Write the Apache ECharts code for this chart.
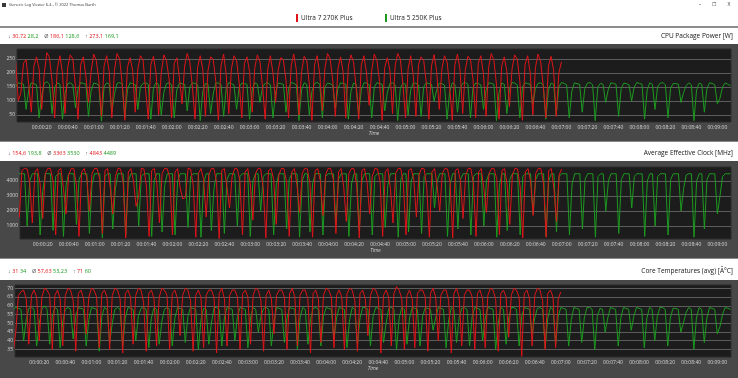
<!DOCTYPE html>
<html>
<head>
<meta charset="utf-8">
<title>Generic Log Viewer</title>
<script src="https://cdn.jsdelivr.net/npm/echarts@6/dist/echarts.min.js"></script>
<style>
    html, body { margin: 0; padding: 0; background: #fff; }
    #main { width: 738px; height: 378px; }
</style>
</head>
<body>
<div id="main"></div>
<script>
// log sample step in seconds
var SAMPLE_STEP = 2;

var seriesNames = ['Ultra 7 270K Plus', 'Ultra 5 250K Plus'];
var seriesColors = ['#de1419', '#1d9a20'];

var timeTicks = [20, 40, 60, 80, 100, 120, 140, 160, 180, 200, 220, 240, 260, 280,
    300, 320, 340, 360, 380, 400, 420, 440, 460, 480, 500, 520, 540];
var powerTicks = [50, 100, 150, 200, 250];
var clockTicks = [1000, 2000, 3000, 4000];
var tempTicks = [35, 40, 45, 50, 55, 60, 65, 70];

// min / avg / max shown above each panel: [red, green]
var powerStats = [['30,72', '28,2'], ['186,1', '128,6'], ['273,1', '169,1']];
var clockStats = [['154,6', '193,8'], ['3363', '3530'], ['4843', '4489']];
var tempStats = [['31', '34'], ['57,63', '53,23'], ['71', '60']];

// CPU Package Power [W]
var redPower = [
    240, 100, 130, 235, 248, 160, 60, 225, 258, 215,
    70, 200, 273, 255, 170, 40, 215, 262, 200, 55,
    220, 265, 250, 150, 35, 230, 258, 190, 95, 205,
    268, 245, 175, 45, 225, 262, 205, 40, 210, 270,
    250, 160, 31, 220, 255, 210, 60, 215, 262, 248,
    140, 35, 230, 260, 200, 50, 200, 265, 245, 180,
    40, 235, 255, 185, 90, 225, 270, 240, 150, 35,
    220, 262, 215, 45, 210, 258, 250, 170, 31, 225,
    268, 195, 55, 215, 262, 245, 165, 40, 235, 258,
    205, 60, 220, 265, 240, 150, 35, 215, 262, 200,
    95, 210, 255, 248, 175, 40, 225, 268, 210, 50,
    205, 260, 245, 160, 31, 230, 262, 195, 65, 220,
    270, 250, 175, 45, 215, 258, 205, 40, 225, 265,
    240, 150, 35, 230, 262, 200, 85, 210, 268, 245,
    170, 31, 220, 255, 210, 55, 225, 270, 250, 160,
    40, 215, 262, 190, 45, 230, 258, 245, 165, 35,
    225, 266, 205, 70, 215, 262, 240, 150, 31, 230,
    268, 210, 55, 210, 260, 248, 175, 40, 235, 262,
    195, 45, 220, 270, 245, 160, 35, 225, 258, 205,
    80, 215, 265, 250, 170, 31, 230, 262, 200, 50,
    220, 268, 240, 155, 40, 225, 260, 210, 45, 200,
    240
];
var greenPower = [
    150, 165, 163, 160, 70, 140, 165, 162, 158, 40,
    120, 163, 169, 160, 55, 150, 165, 160, 35, 130,
    162, 165, 158, 75, 145, 166, 163, 160, 45, 135,
    164, 162, 157, 28, 150, 165, 160, 60, 125, 163,
    166, 160, 40, 140, 165, 162, 158, 70, 150, 163,
    165, 160, 35, 145, 166, 160, 50, 130, 162, 165,
    158, 40, 140, 164, 162, 160, 65, 150, 165, 163,
    158, 30, 135, 163, 160, 55, 125, 165, 164, 160,
    45, 145, 166, 162, 157, 70, 150, 164, 162, 160,
    35, 140, 165, 160, 95, 150, 163, 165, 158, 40,
    130, 164, 162, 160, 60, 145, 166, 163, 158, 30,
    140, 165, 160, 50, 135, 163, 166, 160, 40, 150,
    164, 162, 157, 75, 145, 165, 163, 160, 35, 135,
    164, 160, 55, 140, 165, 164, 158, 40, 150, 166,
    162, 160, 65, 130, 163, 165, 158, 30, 145, 164,
    160, 50, 140, 165, 163, 158, 45, 150, 166, 162,
    160, 100, 140, 164, 162, 157, 35, 135, 165, 160,
    60, 145, 163, 166, 160, 40, 150, 164, 162, 158,
    70, 140, 165, 163, 160, 30, 130, 164, 160, 55,
    145, 166, 164, 158, 40, 150, 165, 162, 160, 90,
    145, 163, 165, 158, 35, 140, 164, 160, 50, 150,
    166, 163, 158, 40, 135, 165, 162, 160, 60, 145,
    164, 166, 158, 30, 150, 163, 160, 95, 140, 165,
    163, 160, 45, 145, 164, 162, 158, 100, 150, 166,
    163, 160, 35, 140, 165, 160, 70, 150, 164, 166,
    158, 40, 145, 163, 162, 160, 95, 130, 155, 165,
    158, 30, 140, 164, 160, 60, 145, 165, 163, 158,
    90, 110, 150, 165, 160, 155
];

// Average Effective Clock [MHz]
var redClock = [
    1300, 1600, 4700, 4840, 4800, 3900, 1200, 4600, 4830, 3800,
    1500, 4500, 4843, 4820, 4000, 400, 4700, 4830, 3500, 1800,
    4400, 4840, 4810, 3700, 300, 4600, 4830, 4200, 2000, 4500,
    4840, 4820, 4100, 500, 4700, 4830, 3600, 1800, 4300, 4840,
    4800, 3900, 200, 4600, 4830, 4000, 2300, 3000, 4840, 4810,
    3600, 300, 4700, 4830, 3800, 1200, 4500, 4840, 4820, 4200,
    400, 4600, 4830, 3500, 2800, 2900, 4840, 4800, 3700, 250,
    4500, 4830, 4100, 1600, 4400, 4840, 4820, 3900, 155, 4700,
    4830, 3600, 2200, 4300, 4840, 4800, 4000, 400, 4600, 4830,
    3800, 1400, 4500, 4840, 4810, 3500, 200, 4700, 4830, 4100,
    1100, 4400, 4840, 4820, 3900, 300, 4600, 4830, 3700, 1900,
    4500, 4840, 4800, 3800, 250, 4700, 4830, 4000, 1700, 4400,
    4840, 4820, 4100, 500, 4600, 4830, 3600, 1300, 4500, 4840,
    4810, 3700, 200, 4700, 4830, 3900, 1800, 4300, 4840, 4800,
    4000, 300, 4600, 4830, 3500, 1200, 4500, 4840, 4820, 3800,
    400, 4700, 4830, 4100, 1600, 4400, 4840, 4810, 3600, 250,
    4600, 4830, 3700, 2000, 4500, 4840, 4800, 3900, 200, 4700,
    4830, 4000, 1500, 4400, 4840, 4820, 3800, 300, 4600, 4830,
    3500, 1900, 4500, 4840, 4810, 4100, 400, 4700, 4830, 3700,
    1100, 4400, 4840, 4800, 3600, 200, 4600, 4830, 4000, 1700,
    4500, 4840, 4820, 3800, 250, 4700, 4830, 3500, 1300, 4400,
    4800
];
var greenClock = [
    4480, 4485, 4480, 4480, 1000, 4000, 4485, 4480, 4480, 400,
    3300, 4480, 4489, 4480, 700, 4300, 4485, 4480, 300, 3700,
    4480, 4485, 4480, 1100, 4100, 4489, 4480, 4480, 500, 3800,
    4485, 4480, 4480, 194, 4300, 4485, 4480, 800, 3500, 4480,
    4489, 4480, 400, 4000, 4485, 4480, 4480, 1000, 4300, 4480,
    4485, 4480, 300, 4100, 4489, 4480, 600, 3700, 4480, 4485,
    4480, 400, 4000, 4485, 4480, 4480, 900, 4300, 4485, 4480,
    4480, 250, 3800, 4480, 4480, 700, 3500, 4485, 4485, 4480,
    500, 4100, 4489, 4480, 4480, 1000, 4300, 4485, 4480, 4480,
    300, 4000, 4485, 4480, 2000, 4300, 4480, 4485, 4480, 400,
    3700, 4485, 4480, 4480, 800, 4100, 4489, 4480, 4480, 250,
    4000, 4485, 4480, 600, 3800, 4480, 4489, 4480, 400, 4300,
    4485, 4480, 4480, 1100, 4100, 4485, 4480, 4480, 300, 3800,
    4485, 4480, 700, 4000, 4485, 4485, 4480, 400, 4300, 4489,
    4480, 4480, 900, 3700, 4480, 4485, 4480, 250, 4100, 4485,
    4480, 600, 4000, 4485, 4480, 4480, 500, 4300, 4489, 4480,
    4480, 2200, 4000, 4485, 4480, 4480, 300, 3800, 4485, 4480,
    800, 4100, 4480, 4489, 4480, 400, 4300, 4485, 4480, 4480,
    1000, 4000, 4485, 4480, 4480, 250, 3700, 4485, 4480, 700,
    4100, 4489, 4485, 4480, 400, 4300, 4485, 4480, 4480, 1800,
    4100, 4480, 4485, 4480, 300, 4000, 4485, 4480, 600, 4300,
    4489, 4480, 4480, 400, 3800, 4485, 4480, 4480, 800, 4100,
    4485, 4489, 4480, 250, 4300, 4480, 4480, 2000, 4000, 4485,
    4480, 4480, 500, 4100, 4485, 4480, 4480, 2200, 4300, 4489,
    4480, 4480, 300, 4000, 4485, 4480, 1000, 4300, 4485, 4489,
    4480, 400, 4100, 4480, 4480, 4480, 2000, 3500, 4400, 4485,
    4480, 250, 4000, 4485, 4480, 800, 4100, 4485, 4480, 4480,
    1800, 3000, 4300, 4485, 4480, 4480
];

// Core Temperatures (avg) [°C]
var redTemp = [
    33, 45, 66, 68, 69, 64, 38, 66, 69, 65,
    40, 65, 70, 69, 66, 35, 66, 69, 64, 37,
    66, 70, 69, 63, 34, 67, 69, 64, 44, 65,
    70, 69, 65, 36, 67, 69, 65, 35, 66, 70,
    69, 64, 33, 67, 69, 65, 38, 66, 70, 69,
    62, 34, 67, 69, 64, 37, 65, 70, 69, 66,
    35, 67, 69, 64, 43, 66, 70, 69, 63, 34,
    66, 69, 65, 36, 66, 69, 69, 65, 33, 67,
    70, 64, 37, 66, 69, 69, 65, 35, 67, 69,
    65, 38, 66, 70, 69, 63, 34, 66, 69, 64,
    44, 66, 69, 69, 65, 35, 67, 70, 65, 37,
    66, 69, 69, 64, 33, 67, 69, 64, 39, 66,
    70, 69, 65, 36, 66, 69, 65, 35, 67, 70,
    69, 63, 34, 67, 69, 64, 43, 66, 70, 69,
    65, 33, 66, 69, 65, 37, 67, 71, 69, 64,
    35, 66, 69, 64, 36, 67, 69, 69, 65, 34,
    67, 70, 65, 40, 66, 69, 69, 63, 33, 67,
    70, 65, 37, 66, 69, 69, 65, 35, 67, 69,
    64, 36, 66, 70, 69, 64, 34, 67, 69, 65,
    42, 66, 70, 69, 65, 31, 67, 69, 64, 37,
    66, 70, 69, 63, 35, 67, 69, 65, 36, 64,
    68
];
var greenTemp = [
    58, 59, 58.5, 58, 40, 52, 58.5, 59, 58, 37,
    50, 58, 60, 58, 38, 54, 59, 58, 36, 51,
    58, 59, 58, 41, 54, 59, 58.5, 58, 37, 52,
    59, 58.5, 58, 34, 54, 59, 58, 39, 50, 58,
    59, 58, 37, 53, 59, 58.5, 58, 40, 54, 58.5,
    59, 58, 36, 53, 59, 58, 38, 51, 58, 59,
    58, 37, 53, 59, 58.5, 58, 39, 54, 59, 58.5,
    58, 35, 52, 58.5, 58, 38, 50, 59, 59, 58,
    37, 53, 59, 58.5, 58, 40, 54, 59, 58.5, 58,
    36, 53, 59, 58, 45, 54, 58.5, 59, 58, 37,
    51, 59, 58.5, 58, 39, 53, 59, 58.5, 58, 35,
    53, 59, 58, 38, 52, 58.5, 59, 58, 37, 54,
    59, 58.5, 58, 41, 53, 59, 58.5, 58, 36, 52,
    59, 58, 38, 53, 59, 59, 58, 37, 54, 59,
    58.5, 58, 39, 50, 58.5, 59, 58, 35, 53, 59,
    58, 38, 53, 59, 58.5, 58, 37, 54, 59, 58.5,
    58, 46, 53, 59, 58.5, 58, 36, 52, 59, 58,
    39, 53, 58.5, 59, 58, 37, 54, 59, 58.5, 58,
    40, 53, 59, 58.5, 58, 35, 50, 59, 58, 38,
    53, 59, 59, 58, 37, 54, 59, 58.5, 58, 44,
    53, 58.5, 59, 58, 36, 53, 59, 58, 38, 54,
    59, 58.5, 58, 37, 52, 59, 58.5, 58, 39, 53,
    59, 59, 58, 35, 54, 58.5, 58, 45, 53, 59,
    58.5, 58, 37, 53, 59, 58.5, 58, 46, 54, 59,
    58.5, 58, 36, 53, 59, 58, 40, 54, 59, 59,
    58, 37, 53, 58.5, 58.5, 58, 45, 50, 56, 59,
    58, 35, 53, 59, 58, 39, 53, 59, 58.5, 58,
    44, 48, 55, 59, 58.5, 58
];

var FONT = "'Open Sans', 'Noto Sans', sans-serif";
var LABEL_COLOR = '#d6d6d6';

// one entry per panel: plot box + axis ranges
var panels = [
    { title: 'CPU Package Power [W]', top: 49, bottom: 256, left: 17, xMin: 1, yMin: 25, yMax: 286,
        ticks: powerTicks, red: redPower, green: greenPower, header: 36, stats: powerStats },
    { title: 'Average Effective Clock [MHz]', top: 167, bottom: 139, left: 20, xMin: 2.5, yMin: 130, yMax: 4933,
        ticks: clockTicks, red: redClock, green: greenClock, header: 153, stats: clockStats },
    { title: 'Core Temperatures (avg) [Â°C]', top: 285, bottom: 21, left: 15, xMin: 1.4, yMin: 30.7, yMax: 71.9,
        ticks: tempTicks, red: redTemp, green: greenTemp, header: 271, stats: tempStats }
];

function toPoints(values) {
    return values.map(function (v, i) {
        return [i * SAMPLE_STEP, v];
    });
}

function pad(n) {
    return (n < 10 ? '0' : '') + n;
}

function fmtTime(s) {
    return '00:' + pad(Math.floor(s / 60)) + ':' + pad(s % 60);
}

function txt(x, y, text, size, color, align, extra) {
    var style = {
        text: text, x: x, y: y, fill: color, fontSize: size, fontFamily: FONT,
        textAlign: align || 'left', textVerticalAlign: 'middle'
    };
    if (extra) {
        for (var k in extra) style[k] = extra[k];
    }
    return { type: 'text', silent: true, z: 10, style: style };
}

function box(x, y, w, h, color, z) {
    return { type: 'rect', silent: true, z: z || -5, shape: { x: x, y: y, width: w, height: h }, style: { fill: color } };
}

// "↓ min min   Ø avg avg   ↑ max max" as one rich text line
function statsLine(stats) {
    var marks = ['↓', 'Ø', '↑'];
    return stats.map(function (pair, k) {
        return '{m|' + marks[k] + '} {r|' + pair[0] + '} {g|' + pair[1] + '}';
    }).join('{m|    }');
}

var statsRich = {
    m: { fill: '#555', fontSize: 5.5, fontFamily: FONT },
    r: { fill: seriesColors[0], fontSize: 5.5, fontFamily: FONT },
    g: { fill: seriesColors[1], fontSize: 5.5, fontFamily: FONT }
};

var grids = [], xAxes = [], yAxes = [], series = [];
var graphics = [
    // window title bar
    box(0, 0, 738, 10, '#ffffff'),
    box(2, 3, 4, 4, '#3a3a3a'),
    txt(9, 5, 'Generic Log Viewer 6.4 - © 2022 Thomas Barth', 4, '#333'),
    txt(700, 5, '–', 5, '#333', 'center'),
    txt(714, 5, '☐', 5, '#333', 'center'),
    txt(729, 5, 'X', 5, '#333', 'center'),
    // legend
    box(296, 14, 2, 8, seriesColors[0], 10),
    txt(301, 18, seriesNames[0], 6.5, '#222'),
    box(385, 14, 2, 8, seriesColors[1], 10),
    txt(390, 18, seriesNames[1], 6.5, '#222'),
    box(0, 26, 738, 2, '#8d8d8d')
];

var panelTops = [44, 161, 280];
var panelBottoms = [142, 259, 378];

panels.forEach(function (p, i) {
    graphics.push(box(0, panelTops[i], 738, panelBottoms[i] - panelTops[i], '#484848'));
    if (i < 2) {
        graphics.push(box(0, panelBottoms[i] - 1, 738, 1, '#8a8a8a'));
    }
    graphics.push(txt(733, p.header, p.title, 6.5, '#151515', 'right'));
    graphics.push(txt(8, p.header, statsLine(p.stats), 5.5, '#555', 'left', { rich: statsRich }));

    grids.push({
        left: p.left, right: 7, top: p.top, bottom: p.bottom,
        show: true, backgroundColor: '#1c1c1c', borderColor: '#2a2a2a', borderWidth: 1
    });
    xAxes.push({
        type: 'value', gridIndex: i, min: p.xMin, max: 550.5,
        axisLine: { show: false },
        axisTick: { show: false, customValues: timeTicks },
        splitLine: { show: false },
        axisLabel: {
            customValues: timeTicks, formatter: fmtTime,
            color: LABEL_COLOR, fontSize: 5, fontFamily: FONT, margin: 3
        },
        name: 'Time', nameLocation: 'middle', nameGap: 9,
        nameTextStyle: { color: LABEL_COLOR, fontSize: 5, fontStyle: 'italic', fontFamily: FONT, verticalAlign: 'top' }
    });
    yAxes.push({
        type: 'value', gridIndex: i, min: p.yMin, max: p.yMax,
        axisLine: { show: false },
        axisTick: { show: false, customValues: p.ticks },
        axisLabel: {
            customValues: p.ticks, color: LABEL_COLOR, fontSize: 5, fontFamily: FONT, margin: 2,
            formatter: function (v) { return String(v); }
        },
        splitLine: { show: true, lineStyle: { color: '#5c5c5c', width: 1 } }
    });
    // green first so red sits on top
    series.push({
        name: seriesNames[1], type: 'line', xAxisIndex: i, yAxisIndex: i,
        data: toPoints(p.green), symbol: 'none', silent: true, z: 3,
        lineStyle: { color: seriesColors[1], width: 1 }
    });
    series.push({
        name: seriesNames[0], type: 'line', xAxisIndex: i, yAxisIndex: i,
        data: toPoints(p.red), symbol: 'none', silent: true, z: 4,
        lineStyle: { color: seriesColors[0], width: 1 }
    });
});

var myChart = echarts.init(document.getElementById('main'));
var option = {
    backgroundColor: '#ffffff',
    animation: false,
    graphic: graphics,
    grid: grids,
    xAxis: xAxes,
    yAxis: yAxes,
    series: series
};
myChart.setOption(option, true);
</script>
</body>
</html>
